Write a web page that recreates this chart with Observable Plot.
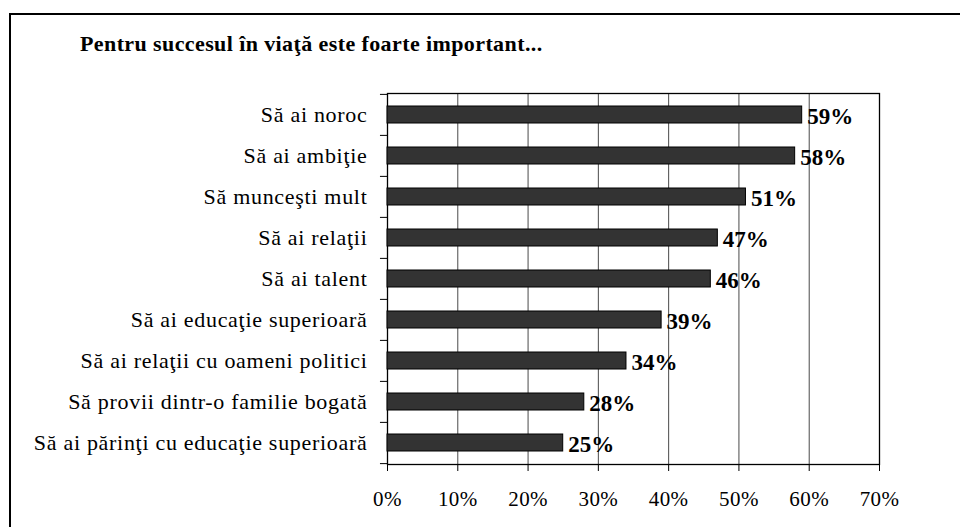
<!DOCTYPE html>
<html>
<head>
<meta charset="utf-8">
<script src="https://cdn.jsdelivr.net/npm/d3@7"></script>
<script src="https://cdn.jsdelivr.net/npm/@observablehq/plot@0.6"></script>
<style>
  html, body { margin: 0; padding: 0; background: #fff; overflow: hidden; }
  #wrap { position: relative; width: 960px; height: 527px; }
  #border { position: absolute; left: 9px; top: 13px; width: 1000px; height: 600px; border: 2px solid #000; box-sizing: border-box; }
  #title { position: absolute; left: 80px; top: 31px; font-family: "Liberation Serif", serif; font-weight: bold; font-size: 22px; letter-spacing: 0.4px; color: #000; white-space: nowrap; }
  #chart { position: absolute; left: 0; top: 0; }
  #chart svg text { font-family: "Liberation Serif", serif; }
  #chart svg g[aria-label="y-axis tick label"] text { letter-spacing: 0.7px; }
  #chart svg g[aria-label="x-axis tick label"] text { letter-spacing: 0.4px; }
</style>
</head>
<body>
<div id="wrap">
  <div id="border"></div>
  <div id="chart"></div>
  <div id="title"></div>
</div>
<script>
const titleText = "Pentru succesul în viaţă este foarte important...";
const categories = [
  "Să ai noroc",
  "Să ai ambiţie",
  "Să munceşti mult",
  "Să ai relaţii",
  "Să ai talent",
  "Să ai educaţie superioară",
  "Să ai relaţii cu oameni politici",
  "Să provii dintr-o familie bogată",
  "Să ai părinţi cu educaţie superioară"
];
const values = [59, 58, 51, 47, 46, 39, 34, 28, 25];
const xTicks = [0, 10, 20, 30, 40, 50, 60, 70];

document.getElementById("title").textContent = titleText;

const data = categories.map((c, i) => ({cat: c, v: values[i]}));
const step = (464 - 93) / categories.length;

const chart = Plot.plot({
  width: 960,
  height: 527,
  marginLeft: 387,
  marginRight: 81,
  marginTop: 93,
  marginBottom: 63,
  style: {fontFamily: "'Liberation Serif', serif", fontSize: "21px", color: "#000", background: "transparent"},
  x: {domain: [0, 70], ticks: xTicks, tickFormat: d => d + "%", label: null},
  y: {domain: categories, paddingInner: 0.59, paddingOuter: 0.295, label: null},
  marks: [
    Plot.gridX(xTicks, {stroke: "#4a4a4a", strokeOpacity: 1, strokeWidth: 1}),
    Plot.frame({stroke: "#000", strokeWidth: 1.3}),
    Plot.barX(data, {x: "v", y: "cat", fill: "#333333", stroke: "#000", strokeWidth: 1}),
    Plot.text(data, {x: "v", y: "cat", text: d => d.v + "%", textAnchor: "start", dx: 5, dy: 2, fontWeight: "bold", fontSize: 23, fill: "#000"}),
    Plot.ruleY(categories, {y: d => d, x1: -1, x2: 0, dy: -step / 2, stroke: "#000", clip: false}),
    Plot.ruleY([categories[categories.length - 1]], {y: d => d, x1: -1, x2: 0, dy: step / 2, stroke: "#000", clip: false}),
    Plot.axisX(xTicks, {tickSize: 7, tickPadding: 20, tickFormat: d => d + "%", fontSize: 21, stroke: "#000", label: null}),
    Plot.axisY({tickSize: 0, tickPadding: 20, fontSize: 22, label: null})
  ]
});
document.getElementById("chart").appendChild(chart);
</script>
</body>
</html>
